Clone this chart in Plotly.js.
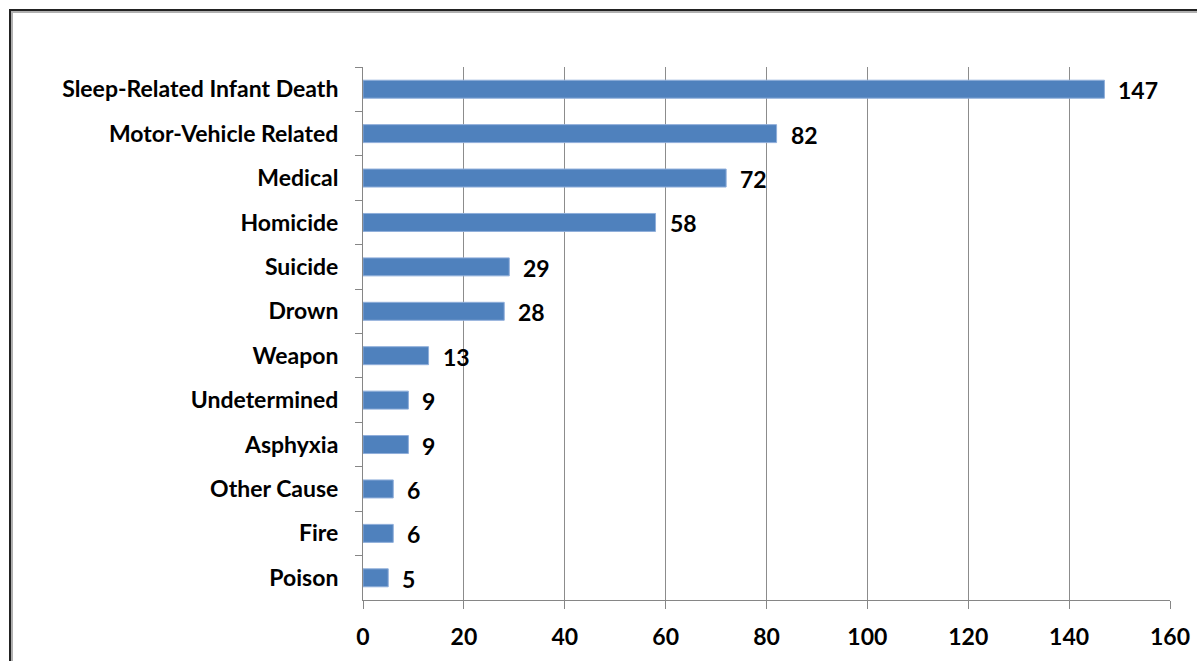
<!DOCTYPE html>
<html>
<head>
<meta charset="utf-8">
<script src="https://cdn.plot.ly/plotly-3.0.1.min.js"></script>
<style>
  html, body { margin: 0; padding: 0; background: #fff; }
  #wrap { position: relative; width: 1197px; height: 661px; overflow: hidden; }
  #chart { width: 1197px; height: 661px; }
  #frame {
    position: absolute; left: 9px; top: 9px; width: 1300px; height: 800px;
    border-left: 2px solid #222; border-top: 2px solid #222;
    box-shadow: inset 2px 2px 0 #b0b0b0;
    pointer-events: none;
  }
</style>
</head>
<body>
<div id="wrap">
  <div id="chart"></div>
  <div id="frame"></div>
</div>
<script>
// Causes of death, listed top to bottom
const causes = [
  "Sleep-Related Infant Death", "Motor-Vehicle Related", "Medical", "Homicide",
  "Suicide", "Drown", "Weapon", "Undetermined", "Asphyxia", "Other Cause",
  "Fire", "Poison"
];
const deaths = [147, 82, 72, 58, 29, 28, 13, 9, 9, 6, 6, 5];
const xTicks = [0, 20, 40, 60, 80, 100, 120, 140, 160];

const labelFont = { family: "Lato, 'Open Sans', sans-serif", size: 23, color: "#000", weight: "bold" };

const trace = {
  type: "bar",
  orientation: "h",
  y: causes,
  x: deaths,
  marker: { color: "#4F81BD", line: { color: "#8FAEDA", width: 1 } },
  hoverinfo: "x+y"
};

// value labels placed just right of each bar end
const valueLabels = causes.map((c, i) => ({
  x: deaths[i], y: c, xref: "x", yref: "y",
  text: String(deaths[i]), showarrow: false,
  xanchor: "left", xshift: 12, yshift: -1,
  font: labelFont
}));

const layout = {
  width: 1197, height: 661,
  margin: { l: 363, r: 27, t: 67, b: 61 },
  paper_bgcolor: "#fff", plot_bgcolor: "#fff",
  showlegend: false,
  bargap: 0.595,
  xaxis: {
    range: [0, 160], tickvals: xTicks, ticktext: xTicks.map(String),
    showgrid: true, gridcolor: "#8c8c8c", gridwidth: 1,
    zeroline: false, showline: true, linecolor: "#868686", linewidth: 1,
    ticks: "outside", ticklen: 8, tickcolor: "#868686",
    tickfont: labelFont, ticklabelstandoff: 8, fixedrange: true
  },
  yaxis: {
    type: "category", autorange: "reversed",
    showgrid: false, zeroline: false,
    showline: true, linecolor: "#868686", linewidth: 1,
    ticks: "outside", ticklen: 7, tickcolor: "#868686", tickson: "boundaries",
    tickfont: labelFont, ticklabelstandoff: 19, fixedrange: true
  },
  annotations: valueLabels
};

Plotly.newPlot("chart", [trace], layout, { displayModeBar: false, staticPlot: true });
</script>
</body>
</html>
